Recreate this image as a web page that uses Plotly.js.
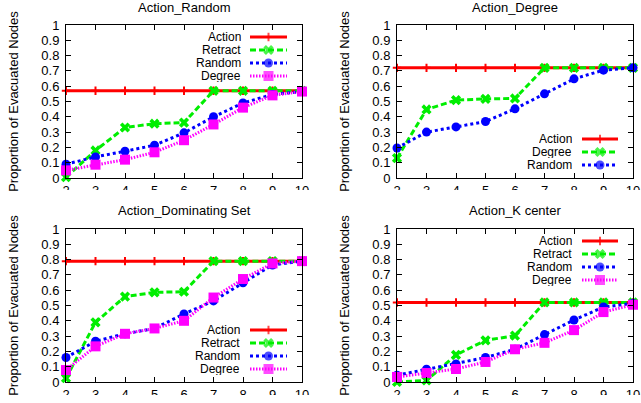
<!DOCTYPE html>
<html>
<head>
<meta charset="utf-8">
<script src="https://cdn.plot.ly/plotly-3.0.1.min.js"></script>
<style>html,body{margin:0;padding:0;background:#fff}#chart{width:641px;height:403px}</style>
</head>
<body>
<div id="chart"></div>
<script>
// ---------- data ----------
const xSteps = [2, 3, 4, 5, 6, 7, 8, 9, 10];
const xTickLabels = ['2', '3', '4', '5', '6', '7', '8', '9', '10'];
const yTickVals = [0, 0.1, 0.2, 0.3, 0.4, 0.5, 0.6, 0.7, 0.8, 0.9, 1];
const yTickLabels = ['0', '0.1', '0.2', '0.3', '0.4', '0.5', '0.6', '0.7', '0.8', '0.9', '1'];

const panelTitles = ['Action_Random', 'Action_Degree', 'Action_Dominating Set', 'Action_K center'];
const yAxisTitle = 'Proportion of Evacuated Nodes';

// Action_Random
const randomPanelNames = ['Action', 'Retract', 'Random', 'Degree'];
const randomAction  = [0.57, 0.57, 0.57, 0.57, 0.57, 0.57, 0.57, 0.57, 0.57];
const randomRetract = [0.005, 0.18, 0.33, 0.355, 0.362, 0.57, 0.57, 0.57, 0.57];
const randomRandom  = [0.09, 0.138, 0.175, 0.214, 0.295, 0.40, 0.49, 0.546, 0.565];
const randomDegree  = [0.05, 0.087, 0.12, 0.168, 0.247, 0.35, 0.46, 0.54, 0.565];

// Action_Degree
const degreePanelNames = ['Action', 'Degree', 'Random'];
const degreeAction = [0.72, 0.72, 0.72, 0.72, 0.72, 0.72, 0.72, 0.72, 0.72];
const degreeDegree = [0.13, 0.448, 0.509, 0.517, 0.52, 0.72, 0.72, 0.72, 0.72];
const degreeRandom = [0.196, 0.30, 0.334, 0.369, 0.452, 0.55, 0.648, 0.705, 0.72];

// Action_Dominating Set
const domPanelNames = ['Action', 'Retract', 'Random', 'Degree'];
const domAction  = [0.79, 0.79, 0.79, 0.79, 0.79, 0.79, 0.79, 0.79, 0.79];
const domRetract = [0.025, 0.39, 0.558, 0.586, 0.59, 0.79, 0.79, 0.79, 0.79];
const domRandom  = [0.16, 0.266, 0.315, 0.35, 0.445, 0.53, 0.648, 0.765, 0.79];
const domDegree  = [0.078, 0.233, 0.315, 0.35, 0.40, 0.552, 0.673, 0.775, 0.79];

// Action_K center
const kcPanelNames = ['Action', 'Retract', 'Random', 'Degree'];
const kcAction  = [0.52, 0.52, 0.52, 0.52, 0.52, 0.52, 0.52, 0.52, 0.52];
const kcRetract = [0.0, 0.01, 0.177, 0.272, 0.303, 0.52, 0.52, 0.52, 0.52];
const kcRandom  = [0.044, 0.083, 0.118, 0.16, 0.214, 0.31, 0.405, 0.49, 0.514];
const kcDegree  = [0.033, 0.059, 0.085, 0.131, 0.214, 0.256, 0.339, 0.457, 0.505];

// ---------- styles / layout config ----------
const W = 641, H = 403;
const FONT = 'Liberation Sans, Arial, sans-serif';
const FS = 13;
const KEY_FS = 12;

const styles = [
  {color: '#ff0000', dash: 'solid',       width: 3, symbol: 'cross-thin', msize: 6,  mline: 2},
  {color: '#00ee00', dash: '6px,3px',     width: 3, symbol: 'x',          msize: 9,  mline: 0},
  {color: '#0000ff', dash: '3px,3px',     width: 3, symbol: 'circle',     msize: 9,  mline: 0},
  {color: '#ff00ff', dash: '1.5px,1.5px', width: 3, symbol: 'square',     msize: 10, mline: 0}
];

const panels = [
  {title: panelTitles[0], names: randomPanelNames, series: [randomAction, randomRetract, randomRandom, randomDegree],
   box: {x0: 66, x1: 302, y0: 25, y1: 178}, titleY: 8,
   legend: {textRight: 242, sx0: 250, sx1: 287, rows: [37, 50, 63, 76]}},
  {title: panelTitles[1], names: degreePanelNames, series: [degreeAction, degreeDegree, degreeRandom],
   box: {x0: 397, x1: 633, y0: 25, y1: 178}, titleY: 7,
   legend: {textRight: 573, sx0: 582, sx1: 618, rows: [139, 152, 165]}},
  {title: panelTitles[2], names: domPanelNames, series: [domAction, domRetract, domRandom, domDegree],
   box: {x0: 66, x1: 302, y0: 229, y1: 382}, titleY: 210,
   legend: {textRight: 241, sx0: 250, sx1: 287, rows: [330, 343, 356, 369]}},
  {title: panelTitles[3], names: kcPanelNames, series: [kcAction, kcRetract, kcRandom, kcDegree],
   box: {x0: 397, x1: 633, y0: 229, y1: 382}, titleY: 210,
   legend: {textRight: 573, sx0: 582, sx1: 618, rows: [241, 254, 267, 280]}}
];

const traces = [];
const layout = {
  width: W, height: H,
  margin: {l: 0, r: 0, t: 0, b: 0},
  paper_bgcolor: '#ffffff', plot_bgcolor: '#ffffff',
  showlegend: false,
  font: {family: FONT, size: FS, color: '#000000'},
  annotations: [],
  shapes: []
};

panels.forEach((p, i) => {
  const n = i === 0 ? '' : String(i + 1);
  const xa = 'x' + n, ya = 'y' + n;
  const b = p.box;
  layout['xaxis' + n] = {
    domain: [b.x0 / W, b.x1 / W], range: [2, 10], anchor: ya,
    tickvals: xSteps, ticktext: xTickLabels,
    ticks: 'inside', ticklen: 5, tickcolor: '#000', mirror: 'ticks',
    showline: true, linecolor: '#000', linewidth: 1,
    showgrid: false, zeroline: false, fixedrange: true,
    tickfont: {family: FONT, size: FS, color: '#000'}
  };
  layout['yaxis' + n] = {
    domain: [1 - b.y1 / H, 1 - b.y0 / H], range: [0, 1], anchor: xa,
    tickvals: yTickVals, ticktext: yTickLabels,
    ticks: 'inside', ticklen: 5, tickcolor: '#000', mirror: 'ticks',
    showline: true, linecolor: '#000', linewidth: 1,
    showgrid: false, zeroline: false, fixedrange: true,
    tickfont: {family: FONT, size: FS, color: '#000'},
    ticklabelstandoff: 3,
    title: {text: yAxisTitle, font: {family: FONT, size: FS, color: '#000'}, standoff: 19}
  };
  // data traces
  p.series.forEach((vals, j) => {
    const s = styles[j];
    traces.push({
      x: xSteps, y: vals, xaxis: xa, yaxis: ya, name: p.names[j],
      type: 'scatter', mode: 'lines+markers', cliponaxis: false,
      line: {color: s.color, width: s.width, dash: s.dash},
      marker: {symbol: s.symbol, size: s.msize, color: s.color, line: {color: s.color, width: s.mline}},
      showlegend: false, hoverinfo: 'x+y+name'
    });
  });
  // gnuplot-style key: text on the left, sample on the right
  const toX = px => 2 + (px - b.x0) / (b.x1 - b.x0) * 8;
  const toY = py => (b.y1 - py) / (b.y1 - b.y0);
  p.names.forEach((nm, j) => {
    const s = styles[j];
    const ry = p.legend.rows[j];
    layout.annotations.push({
      xref: 'paper', yref: 'paper', x: p.legend.textRight / W, y: 1 - ry / H,
      xanchor: 'right', yanchor: 'middle', showarrow: false, text: nm,
      height: 12, valign: 'middle', borderpad: 0,
      font: {family: FONT, size: KEY_FS, color: '#000'}
    });
    const lx0 = toX(p.legend.sx0), lx1 = toX(p.legend.sx1);
    traces.push({
      x: [lx0, (lx0 + lx1) / 2, lx1], y: [toY(ry), toY(ry), toY(ry)],
      xaxis: xa, yaxis: ya, type: 'scatter', mode: 'lines+markers', cliponaxis: false,
      line: {color: s.color, width: s.width, dash: s.dash},
      marker: {symbol: s.symbol, size: [0, s.msize, 0], color: s.color, line: {color: s.color, width: s.mline}},
      showlegend: false, hoverinfo: 'skip'
    });
  });
  // panel title
  layout.annotations.push({
    xref: 'paper', yref: 'paper', x: (b.x0 + b.x1) / 2 / W, y: 1 - p.titleY / H,
    xanchor: 'center', yanchor: 'middle', showarrow: false, text: p.title,
    font: {family: FONT, size: FS, color: '#000'}
  });
});

// the source panels were cropped just below the x tick labels
layout.shapes.push(
  {type: 'rect', xref: 'paper', yref: 'paper', x0: 0, x1: 1, y0: 1 - 199 / H, y1: 1 - 190 / H,
   fillcolor: '#ffffff', line: {width: 0}, layer: 'above'},
  {type: 'rect', xref: 'paper', yref: 'paper', x0: 0, x1: 1, y0: 0, y1: 1 - 395 / H,
   fillcolor: '#ffffff', line: {width: 0}, layer: 'above'}
);

Plotly.newPlot('chart', traces, layout, {displayModeBar: false, staticPlot: true});
</script>
</body>
</html>
